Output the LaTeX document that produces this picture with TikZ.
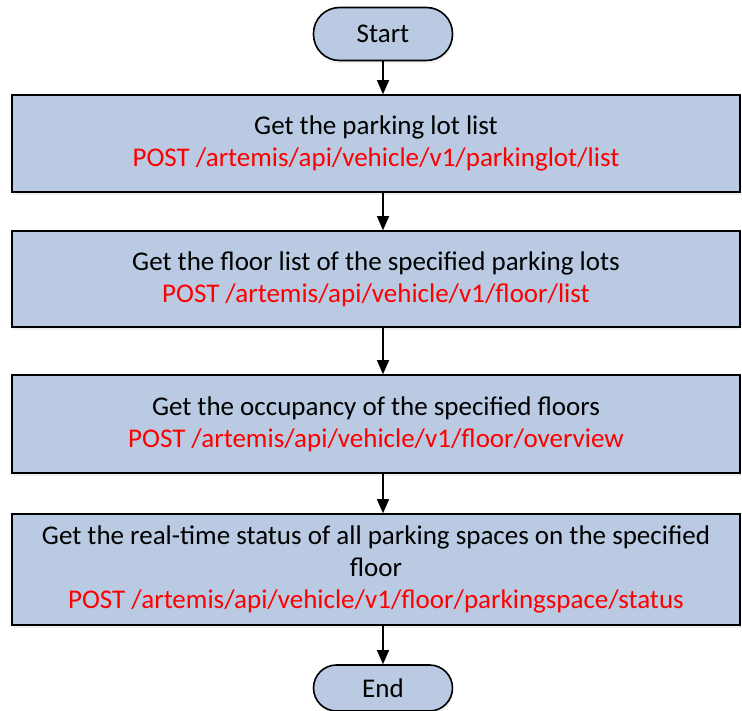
\documentclass[tikz,border=0pt]{standalone}
\usepackage{fontspec}
\setmainfont{Carlito}
\usetikzlibrary{arrows.meta,shadows}
\definecolor{boxfill}{HTML}{B9CAE2}
\definecolor{apired}{HTML}{FF0000}
\tikzset{
  x=1pt,y=-1pt,
  basebox/.style={draw=black,line width=1.6pt,fill=boxfill,
    drop shadow={opacity=0.12,shadow xshift=1pt,shadow yshift=-3pt}},
  procbox/.style={basebox,rectangle,minimum width=728pt,inner sep=0pt,align=center,font=\fontsize{27}{32}\selectfont},
  termbox/.style={basebox,rectangle,rounded corners=26pt,minimum width=139pt,minimum height=53pt,inner sep=0pt,font=\fontsize{27}{30}\selectfont},
  flow/.style={line width=1.4pt,-{Triangle[width=12pt,length=14pt]}}
}
\newcommand{\api}[1]{\textcolor{apired}{#1}}
\begin{document}
\begin{tikzpicture}
\useasboundingbox (0,0) rectangle (742,711);
\node[termbox] (start) at (383,34) {Start};
\node[procbox,minimum height=97pt] (b1) at (376,143.5) {Get the parking lot list\\\api{POST /artemis/api/vehicle/v1/parkinglot/list}};
\node[procbox,minimum height=96pt] (b2) at (376,279) {Get the floor list of the specified parking lots\\\api{POST /artemis/api/vehicle/v1/floor/list}};
\node[procbox,minimum height=98pt] (b3) at (376,424) {Get the occupancy of the specified floors\\\api{POST /artemis/api/vehicle/v1/floor/overview}};
\node[procbox,minimum height=111pt] (b4) at (376,569.5) {Get the real-time status of all parking spaces on the specified\\floor\\\api{POST /artemis/api/vehicle/v1/floor/parkingspace/status}};
\node[termbox,minimum height=46pt,rounded corners=23pt] (end) at (383,688) {End};
\draw[flow] (start.south) -- (start.south |- b1.north);
\draw[flow] (b1.south -| start.south) -- (b2.north -| start.south);
\draw[flow] (b2.south -| start.south) -- (b3.north -| start.south);
\draw[flow] (b3.south -| start.south) -- (b4.north -| start.south);
\draw[flow] (b4.south -| start.south) -- (end.north);
\end{tikzpicture}
\end{document}
